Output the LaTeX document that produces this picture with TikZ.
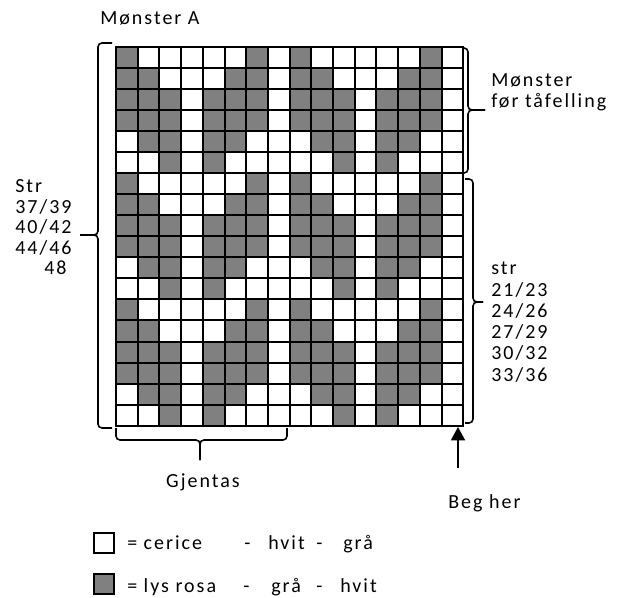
\documentclass[tikz,border=0pt]{standalone}
\usepackage{fontspec}
\setmainfont{Carlito}[LetterSpace=10]
\usetikzlibrary{arrows.meta,positioning}
\definecolor{cellgray}{RGB}{128,128,128}

\begin{document}
\begin{tikzpicture}[
  x=0.75pt, y=-0.75pt,
  font=\fontsize{15}{15.5}\selectfont,
  lbl/.style={anchor=base west, inner sep=0pt},
  cell/.style={fill=cellgray},
  gridline/.style={line width=1.5pt},
  brace/.style={line width=1.2pt, rounded corners=3pt},
  keybox/.style={draw, line width=1.6pt, minimum size=15.5pt, inner sep=0pt},
  arrow/.style={-{Triangle[length=10pt,width=10.5pt]}, line width=1.2pt}
]
\useasboundingbox (0,0) rectangle (627,598);

% grey cells, one 8 x 6 repeat
\foreach \blk in {0,1,2}
  \foreach \r/\cols in {1/{1,7},2/{1,2,6,7},3/{1,2,3,5,6,7},4/{1,2,3,5,6,7},5/{2,3,5,6},6/{3,5}}
    \foreach \rep in {0,8}
      \foreach \col in \cols
        \fill[cell] ({116+(\col+\rep-1)*21.7},{46.7+(\r+6*\blk-1)*21.06}) rectangle ++(21.7,21.06);

\foreach \i in {0,...,16}
  \draw[gridline] ({116+\i*21.7},46.7) -- ({116+\i*21.7},425.8);
\foreach \j in {0,...,18}
  \draw[gridline] (116,{46.7+\j*21.06}) -- (463.2,{46.7+\j*21.06});
\draw[gridline, line join=miter] (116,46.7) rectangle (463.2,425.8);

% braces
\coordinate (lefttip) at (80,235);
\coordinate (toptip) at (485,110);
\coordinate (lowtip) at (483,302);
\coordinate (reptip) at (200,460);
\draw[brace] (112,43) -| (98,235) -- (lefttip);
\draw[brace] (112,428) -| (98,235) -- (lefttip);
\draw[brace] (462,48) -| (468,110) -- (toptip);
\draw[brace] (462,173) -| (468,110) -- (toptip);
\draw[brace] (465,179) -| (473,302) -- (lowtip);
\draw[brace] (465,423) -| (473,302) -- (lowtip);
\draw[brace] (116,428) |- (200,440) -- (reptip);
\draw[brace] (287,428) |- (200,440) -- (reptip);

\node[lbl] (title) at (100,25) {Mønster A};

\foreach \t [count=\k] in {Str,37/39,40/42,44/46}
  \node[lbl] (left\k) at (15,{193+(\k-1)*20.5}) {\t};
\node[lbl] (left5) at (44,275) {48};

\node[lbl] (before1) at (491,87) {Mønster};
\node[lbl] (before2) at (491,108) {før tåfelling};

\foreach \t [count=\k] in {str,21/23,24/26,27/29,30/32,33/36}
  \node[lbl] (right\k) at (491,{275+(\k-1)*21.2}) {\t};

\node[anchor=base, inner sep=0pt] (gjentas) at (203,487) {Gjentas};

\coordinate (begtail) at (458,468);
\coordinate (beghead) at (458,427);
\draw[arrow] (begtail) -- (beghead);
\node[lbl] (beg) at (448,508) {Beg her};

% legend
\node[keybox, fill=white] (keywhite) at (104,543) {};
\node[keybox, fill=cellgray] (keygray) at (104,584) {};
\node[lbl] (kw1) at (127,549) {= cerice};
\node[lbl] (kw2) at (244,549) {-};
\node[lbl] (kw3) at (268,549) {hvit};
\node[lbl] (kw4) at (316,549) {-};
\node[lbl] (kw5) at (343,549) {grå};
\node[lbl] (kg1) at (127,592) {= lys rosa};
\node[lbl] (kg2) at (243,592) {-};
\node[lbl] (kg3) at (271,592) {grå};
\node[lbl] (kg4) at (316,592) {-};
\node[lbl] (kg5) at (340,592) {hvit};
\end{tikzpicture}
\end{document}
